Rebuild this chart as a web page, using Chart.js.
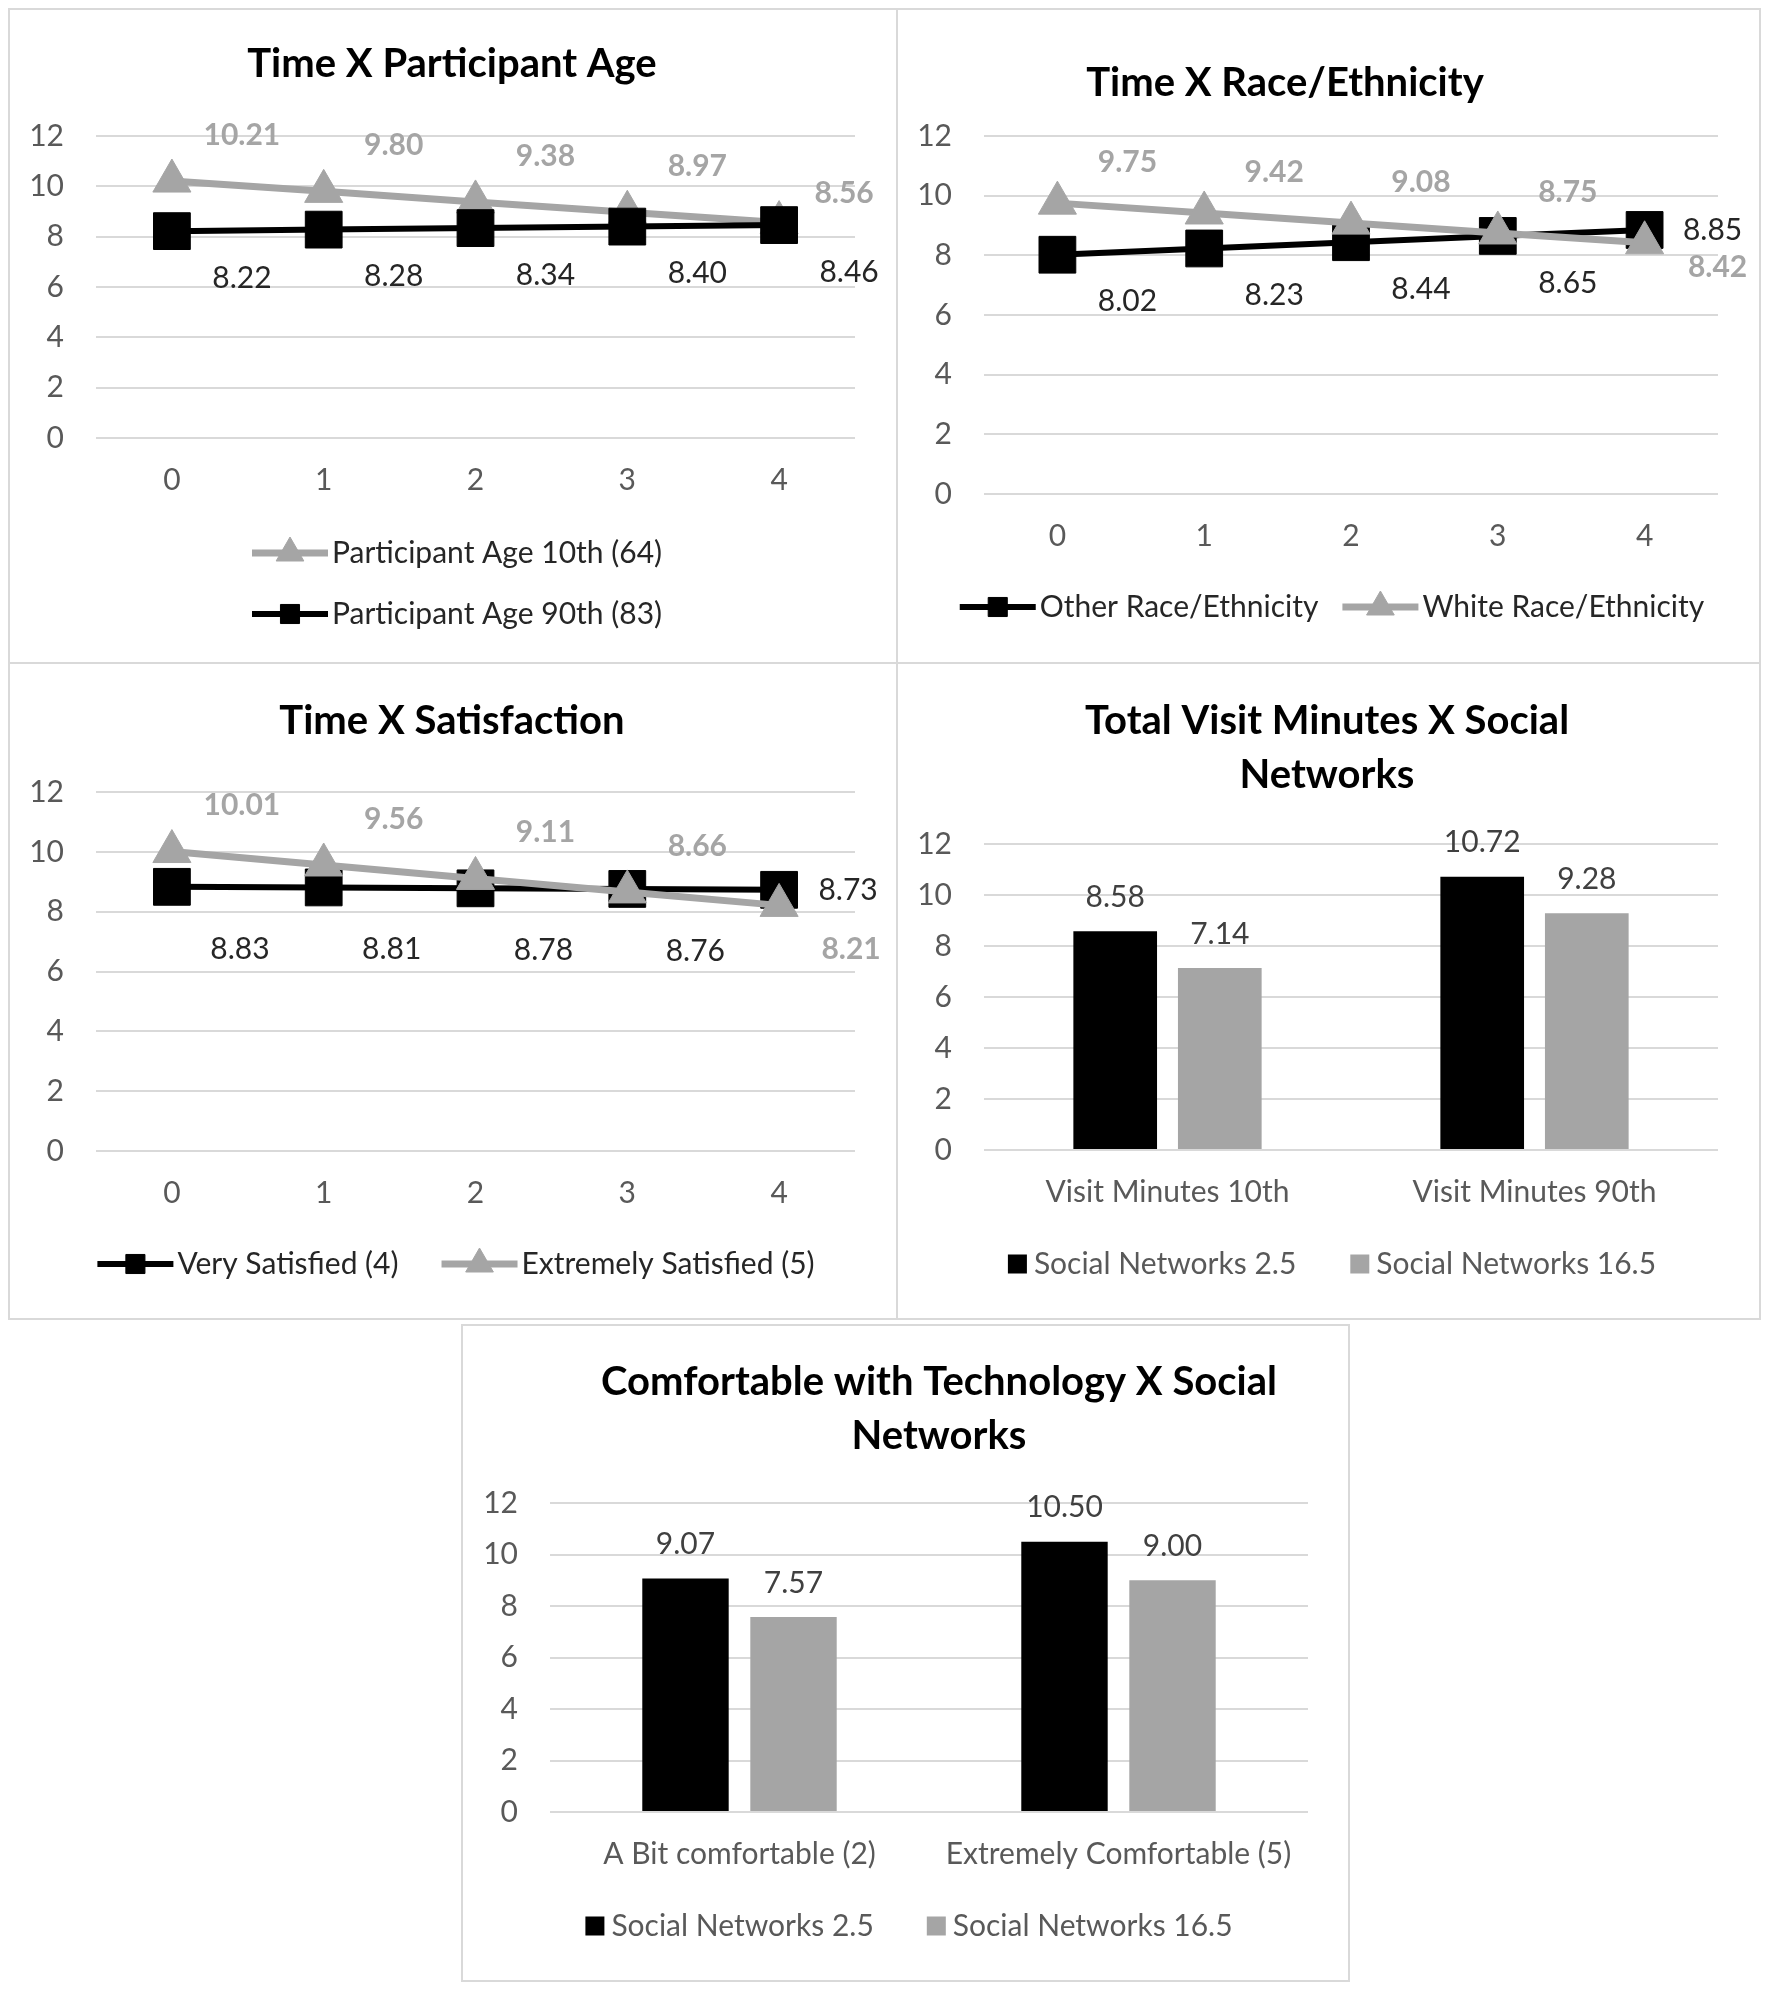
<!DOCTYPE html>
<html>
<head>
<meta charset="utf-8">
<script src="https://cdn.jsdelivr.net/npm/chart.js@4.4.1/dist/chart.umd.min.js"></script>
<style>
html,body{margin:0;padding:0;background:#fff;}
body{width:1768px;height:1991px;position:relative;overflow:hidden;}
.panel{position:absolute;box-sizing:border-box;border:2px solid #d9d9d9;}
canvas{position:absolute;}
</style>
</head>
<body>
<script>
// ---------------- data ----------------
const timePoints = ['0', '1', '2', '3', '4'];
const yTicks = [0, 2, 4, 6, 8, 10, 12];

const ageSeriesNames = ['Participant Age 10th (64)', 'Participant Age 90th (83)'];
const age10th = [10.21, 9.80, 9.38, 8.97, 8.56];
const age90th = [8.22, 8.28, 8.34, 8.40, 8.46];

const raceSeriesNames = ['Other Race/Ethnicity', 'White Race/Ethnicity'];
const raceOther = [8.02, 8.23, 8.44, 8.65, 8.85];
const raceWhite = [9.75, 9.42, 9.08, 8.75, 8.42];

const satSeriesNames = ['Very Satisfied (4)', 'Extremely Satisfied (5)'];
const satVery = [8.83, 8.81, 8.78, 8.76, 8.73];
const satExtreme = [10.01, 9.56, 9.11, 8.66, 8.21];

const networkSeriesNames = ['Social Networks 2.5', 'Social Networks 16.5'];
const visitCategories = ['Visit Minutes 10th', 'Visit Minutes 90th'];
const visitNet25 = [8.58, 10.72];
const visitNet165 = [7.14, 9.28];

const comfortCategories = ['A Bit comfortable (2)', 'Extremely Comfortable (5)'];
const comfortNet25 = [9.07, 10.50];
const comfortNet165 = [7.57, 9.00];

const titleAge = ['Time X Participant Age'];
const titleRace = ['Time X Race/Ethnicity'];
const titleSat = ['Time X Satisfaction'];
const titleVisit = ['Total Visit Minutes X Social', 'Networks'];
const titleComfort = ['Comfortable with Technology X Social', 'Networks'];

// ---------------- styles ----------------
const FONT = 'Lato';
const GRAY = '#a5a5a5';
const BLACK = '#000000';
const TXT = 30;

function grayLine(name, data, order) {
  return {label: name, data, borderColor: GRAY, backgroundColor: GRAY, borderWidth: 7,
    pointStyle: 'triangle', pointRadius: 22, pointBackgroundColor: GRAY, pointBorderColor: GRAY,
    pointBorderWidth: 1, tension: 0, order};
}
function blackLine(name, data, order) {
  return {label: name, data, borderColor: BLACK, backgroundColor: BLACK, borderWidth: 6,
    pointStyle: 'rect', pointRadius: 26, pointBackgroundColor: BLACK, pointBorderColor: BLACK,
    pointBorderWidth: 1, tension: 0, order};
}
function bars(name, data, color) {
  return {label: name, data, backgroundColor: color, borderWidth: 0,
    categoryPercentage: 0.57, barPercentage: 0.8};
}

function panel(def) {
  const [bx, by, bw, bh] = def.box;
  const [al, at, ar, ab] = def.area;
  const border = document.createElement('div');
  border.className = 'panel';
  Object.assign(border.style, {left: bx + 'px', top: by + 'px', width: bw + 'px', height: bh + 'px'});
  document.body.appendChild(border);
  const canvas = document.createElement('canvas');
  canvas.width = bw; canvas.height = bh;
  Object.assign(canvas.style, {left: bx + 'px', top: by + 'px', width: bw + 'px', height: bh + 'px'});
  document.body.appendChild(canvas);

  const xH = 70;
  const yW = al - bx;

  const deco = {
    id: 'deco',
    afterDatasetsDraw(chart) {
      const ctx = chart.ctx;
      ctx.save();
      ctx.textAlign = 'center';
      ctx.textBaseline = 'middle';
      chart.data.datasets.forEach((ds, i) => {
        const st = def.labels[i];
        const meta = chart.getDatasetMeta(i);
        ctx.font = (st.bold ? 'bold ' : '') + TXT + 'px ' + FONT;
        ctx.fillStyle = st.color;
        meta.data.forEach((el, j) => {
          let dx = st.dx, dy = st.dy;
          if (st.last && j === meta.data.length - 1) { dx = st.last[0]; dy = st.last[1]; }
          ctx.fillText(ds.data[j].toFixed(2), el.x + dx, el.y + dy);
        });
      });
      ctx.restore();
    },
    afterDraw(chart) {
      const ctx = chart.ctx;
      ctx.save();
      // title
      ctx.font = 'bold 40px ' + FONT;
      ctx.fillStyle = '#000';
      ctx.textAlign = 'center';
      ctx.textBaseline = 'middle';
      def.title.lines.forEach((t, k) => ctx.fillText(t, def.title.x - bx, def.title.ys[k] - by));
      // legend
      const lg = def.legend;
      ctx.font = TXT + 'px ' + FONT;
      ctx.textAlign = 'left';
      const dsets = chart.data.datasets;
      const symW = lg.mode === 'line' ? 76 : 19;
      const symGap = lg.mode === 'line' ? 4 : 7;
      const widths = lg.items.map(i => symW + symGap + ctx.measureText(dsets[i].label).width);
      let positions = [];
      if (lg.layout === 'vertical') {
        positions = lg.items.map((i, k) => [lg.x, lg.ys[k]]);
      } else {
        const total = widths.reduce((a, b) => a + b, 0) + lg.gap * (widths.length - 1);
        let x = lg.x - total / 2;
        lg.items.forEach((i, k) => { positions.push([x, lg.y]); x += widths[k] + lg.gap; });
      }
      lg.items.forEach((i, k) => {
        const ds = dsets[i];
        const x = positions[k][0] - bx, y = positions[k][1] - by;
        if (lg.mode === 'line') {
          ctx.strokeStyle = ds.borderColor;
          ctx.lineWidth = ds.borderWidth;
          ctx.beginPath(); ctx.moveTo(x, y); ctx.lineTo(x + symW, y); ctx.stroke();
          ctx.fillStyle = ds.pointBackgroundColor;
          ctx.lineWidth = 1;
          Chart.helpers.drawPoint(ctx, {pointStyle: ds.pointStyle, rotation: 0,
            radius: ds.pointStyle === 'rect' ? 13.5 : 16, borderWidth: 1}, x + symW / 2, y);
        } else {
          ctx.fillStyle = ds.backgroundColor;
          ctx.fillRect(x, y - 9.5, symW, 19);
        }
        ctx.fillStyle = lg.color;
        ctx.textBaseline = 'middle';
        ctx.fillText(ds.label, x + symW + symGap, y);
      });
      ctx.restore();
    }
  };

  new Chart(canvas, {
    type: def.type,
    data: {labels: def.categories, datasets: def.datasets},
    options: {
      responsive: false, animation: false, devicePixelRatio: 1,
      layout: {padding: {left: 0, top: at - by, right: bx + bw - ar, bottom: by + bh - ab - xH}},
      plugins: {legend: {display: false}, title: {display: false}, tooltip: {enabled: false}},
      scales: {
        x: {
          offset: true,
          afterFit: s => { s.height = xH; },
          grid: {display: false, drawTicks: false},
          border: {display: false},
          ticks: {padding: 24, color: '#595959', font: {family: FONT, size: TXT}, maxRotation: 0, autoSkip: false}
        },
        y: {
          min: 0, max: 12,
          afterBuildTicks: s => { s.ticks = yTicks.map(v => ({value: v})); },
          afterFit: s => { s.width = yW; },
          grid: {color: '#d9d9d9', lineWidth: 2, drawTicks: false},
          border: {display: false},
          ticks: {padding: 32, color: '#595959', font: {family: FONT, size: TXT}}
        }
      }
    },
    plugins: [deco]
  });
}

// ---------------- panels ----------------
panel({
  type: 'line', box: [8, 8, 890, 656], area: [96, 136, 855, 438],
  categories: timePoints,
  datasets: [grayLine(ageSeriesNames[0], age10th, 1), blackLine(ageSeriesNames[1], age90th, 0)],
  labels: [{color: GRAY, bold: true, dx: 70, dy: -46, last: [65, -29]},
           {color: '#262626', bold: false, dx: 70, dy: 47}],
  title: {lines: titleAge, x: 452, ys: [64]},
  legend: {mode: 'line', layout: 'vertical', items: [0, 1], x: 252, ys: [553, 614], color: '#262626'}
});

panel({
  type: 'line', box: [896, 8, 865, 656], area: [984, 136, 1718, 494],
  categories: timePoints,
  datasets: [blackLine(raceSeriesNames[0], raceOther, 1), grayLine(raceSeriesNames[1], raceWhite, 0)],
  labels: [{color: '#262626', bold: false, dx: 70, dy: 47, last: [68, 0]},
           {color: GRAY, bold: true, dx: 70, dy: -41, last: [73, 25]}],
  title: {lines: titleRace, x: 1285, ys: [83]},
  legend: {mode: 'line', layout: 'horizontal', items: [0, 1], x: 1332, y: 607, gap: 24, color: '#262626'}
});

panel({
  type: 'line', box: [8, 662, 890, 658], area: [96, 792, 855, 1151],
  categories: timePoints,
  datasets: [blackLine(satSeriesNames[0], satVery, 1), grayLine(satSeriesNames[1], satExtreme, 0)],
  labels: [{color: '#262626', bold: false, dx: 68, dy: 62, last: [69, 1]},
           {color: GRAY, bold: true, dx: 70, dy: -46, last: [72, 44]}],
  title: {lines: titleSat, x: 452, ys: [721]},
  legend: {mode: 'line', layout: 'horizontal', items: [0, 1], x: 456, y: 1264, gap: 43, color: '#262626'}
});

panel({
  type: 'bar', box: [896, 662, 865, 658], area: [984, 844, 1718, 1150],
  categories: visitCategories,
  datasets: [bars(networkSeriesNames[0], visitNet25, BLACK), bars(networkSeriesNames[1], visitNet165, GRAY)],
  labels: [{color: '#404040', dx: 0, dy: -34}, {color: '#404040', dx: 0, dy: -34}],
  title: {lines: titleVisit, x: 1327, ys: [721, 775]},
  legend: {mode: 'box', layout: 'horizontal', items: [0, 1], x: 1332, y: 1264, gap: 54, color: '#595959'}
});

panel({
  type: 'bar', box: [461, 1324, 889, 658], area: [550, 1503, 1308, 1812],
  categories: comfortCategories,
  datasets: [bars(networkSeriesNames[0], comfortNet25, BLACK), bars(networkSeriesNames[1], comfortNet165, GRAY)],
  labels: [{color: '#404040', dx: 0, dy: -34}, {color: '#404040', dx: 0, dy: -34}],
  title: {lines: titleComfort, x: 939, ys: [1382, 1436]},
  legend: {mode: 'box', layout: 'horizontal', items: [0, 1], x: 909, y: 1926, gap: 53, color: '#595959'}
});
</script>
</body>
</html>
